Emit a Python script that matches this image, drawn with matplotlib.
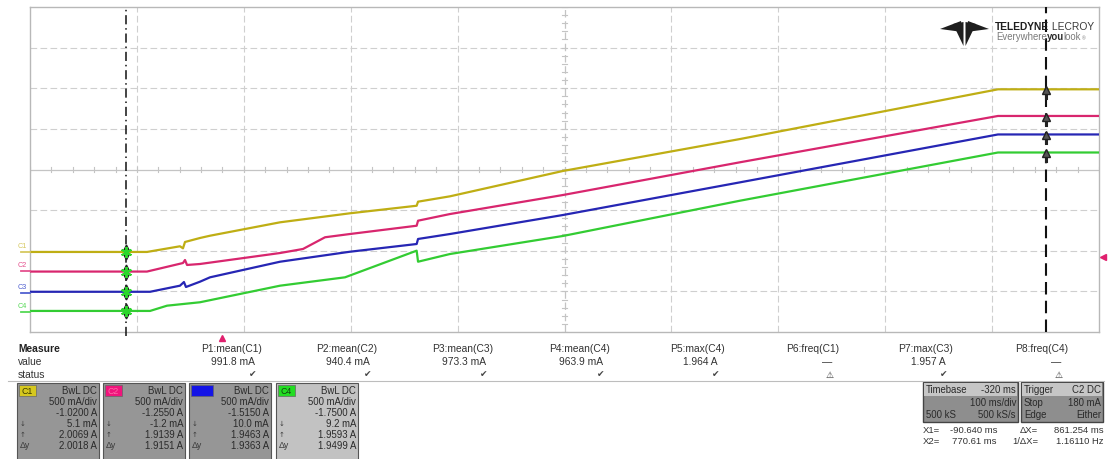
import numpy as np
import matplotlib
matplotlib.use("Agg")
import matplotlib.pyplot as plt
from matplotlib.patches import Rectangle, Polygon

plt.rcParams['font.family'] = ['Liberation Sans', 'DejaVu Sans']

# ---------------- acquisition (time in ms, current in A) ----------------
c1_t = [-180, -70.6, -49.0, -39.7, -36.9, -35.0, -21.0, -11.6, 53.9, 119.3,
        181.7, 183.0, 212.9, 318.6, 484.2, 725.5, 820]
c1_a = [0.0051, 0.0051, 0.054, 0.075, 0.050, 0.128, 0.177, 0.205, 0.370, 0.481,
        0.574, 0.624, 0.690, 1.002, 1.395, 2.0069, 2.0069]

c2_t = [-180, -70.6, -36.9, -35.0, -33.1, -21.0, 53.9, 75.4, 96.0, 119.3,
        181.7, 183.0, 212.9, 318.6, 484.2, 725.5, 820]
c2_a = [-0.0012, -0.0012, 0.104, 0.141, 0.080, 0.092, 0.227, 0.277, 0.421, 0.461,
        0.563, 0.625, 0.707, 0.941, 1.344, 1.9139, 1.9139]

c3_t = [-180, -67.7, -39.7, -36.0, -34.1, -21.0, -11.6, 53.9, 119.3,
        181.7, 183.0, 212.9, 318.6, 484.2, 725.5, 820]
c3_a = [0.0100, 0.0100, 0.085, 0.130, 0.069, 0.134, 0.188, 0.380, 0.503,
        0.598, 0.660, 0.721, 0.955, 1.357, 1.9463, 1.9463]

c4_t = [-180, -67.7, -51.8, -21.0, 53.9, 114.7, 181.7, 183.0, 212.9,
        318.6, 484.2, 725.5, 820]
c4_a = [0.0092, 0.0092, 0.074, 0.116, 0.320, 0.423, 0.751, 0.615, 0.710,
        0.932, 1.366, 1.9593, 1.9593]

channels = ["C1", "C2", "C3", "C4"]
ch_times = [c1_t, c2_t, c3_t, c4_t]
ch_amps = [c1_a, c2_a, c3_a, c4_a]
ch_colors = ["#bfae14", "#d8266e", "#2626b4", "#33cc33"]
ch_label_colors = ["#d6c860", "#e4508e", "#5060d0", "#55d855"]
ch_chip_colors = ["#d6c81e", "#f0147c", "#1414e6", "#22dd22"]
ch_offsets = [-1.0200, -1.2550, -1.5150, -1.7500]
amps_per_div = 0.5

# time base: 100 ms/div, 10 divisions, display from -180 ms to 820 ms
t_left, t_right = -180.0, 820.0
n_xdiv, n_ydiv = 10, 8

# cursors
x1_ms = -90.640
x2_ms = 770.61

# trigger: C2 edge at 180 mA, t = 0
trig_level = 0.180
trig_time = 0.0

# measurement table
meas_names = ["P1:mean(C1)", "P2:mean(C2)", "P3:mean(C3)", "P4:mean(C4)",
              "P5:max(C4)", "P6:freq(C1)", "P7:max(C3)", "P8:freq(C4)"]
meas_values = ["991.8 mA", "940.4 mA", "973.3 mA", "963.9 mA",
               "1.964 A", "\u2014", "1.957 A", "\u2014"]
meas_status = ["ok", "ok", "ok", "ok", "ok", "warn", "ok", "warn"]

# per-channel descriptor readouts
ch_coupling = ["BwL DC", "BwL DC", "BwL DC", "BwL DC"]
ch_scale = ["500 mA/div"] * 4
ch_offset_txt = ["-1.0200 A", "-1.2550 A", "-1.5150 A", "-1.7500 A"]
ch_at_x1 = ["5.1 mA", "-1.2 mA", "10.0 mA", "9.2 mA"]
ch_at_x2 = ["2.0069 A", "1.9139 A", "1.9463 A", "1.9593 A"]
ch_delta = ["2.0018 A", "1.9151 A", "1.9363 A", "1.9499 A"]

timebase_rows = [("Timebase", "-320 ms"), ("", "100 ms/div"), ("500 kS", "500 kS/s")]
trigger_rows = [("Trigger", "C2 DC"), ("Stop", "180 mA"), ("Edge", "Either")]
cursor_rows = [("X1=", "-90.640 ms", "\u0394X=", "861.254 ms"),
               ("X2=", "770.61 ms", "1/\u0394X=", "1.16110 Hz")]

# ---------------- figure ----------------
W, H = 1109, 460
fig = plt.figure(figsize=(W / 100, H / 100), dpi=100)
fig.patch.set_facecolor("white")

gx0, gx1, gy0, gy1 = 30, 1099, 8, 333
ax = fig.add_axes([gx0 / W, 1 - gy1 / H, (gx1 - gx0) / W, (gy1 - gy0) / H])
ax.set_xlim(t_left, t_right)
ax.set_ylim(-n_ydiv / 2, n_ydiv / 2)
ax.set_xticks([])
ax.set_yticks([])
for sp in ax.spines.values():
    sp.set_color("#b8b8b8")
    sp.set_linewidth(1.0)

ms_per_div = (t_right - t_left) / n_xdiv
px_per_ms = (gx1 - gx0) / (t_right - t_left)
px_per_div = (gy1 - gy0) / n_ydiv

# graticule
grid_kw = dict(color="#cfcfcf", lw=0.8, dashes=(6, 3), zorder=1)
for i in range(1, n_xdiv):
    if i != n_xdiv // 2:
        ax.axvline(t_left + i * ms_per_div, **grid_kw)
for j in range(1, n_ydiv):
    if j != n_ydiv // 2:
        ax.axhline(-n_ydiv / 2 + j, **grid_kw)
t_mid = t_left + 5 * ms_per_div
ax.axhline(0, color="#c4c4c4", lw=0.9, zorder=1)
ax.axvline(t_mid, color="#c4c4c4", lw=0.9, dashes=(6, 3), zorder=1)
tick_h = 2.2 / px_per_div
for tt in np.arange(t_left, t_right + 1e-6, ms_per_div / 5):
    ax.plot([tt, tt], [-tick_h, tick_h], color="#c4c4c4", lw=0.8, zorder=1)
tick_w = 2.2 / px_per_ms
for yy in np.arange(-n_ydiv / 2, n_ydiv / 2 + 1e-6, 0.2):
    ax.plot([t_mid - tick_w, t_mid + tick_w], [yy, yy], color="#c4c4c4", lw=0.8, zorder=1)


def to_div(amps, offset):
    return (np.asarray(amps, dtype=float) + offset) / amps_per_div


# traces
for name, tt, aa, col, off in zip(channels, ch_times, ch_amps, ch_colors, ch_offsets):
    ax.plot(tt, to_div(aa, off), color=col, lw=1.6, zorder=3, solid_joinstyle="round")

# channel ground markers + labels on the left edge
for name, col, off in zip(channels, ch_label_colors, ch_offsets):
    y0 = to_div(0.0, off)
    ax.plot([t_left - 9 / px_per_ms, t_left], [y0, y0], color=col, lw=1.3, clip_on=False, zorder=3)
    ax.text(t_left - 12 / px_per_ms, y0 + 3 / px_per_div, name, color=col, fontsize=5.2,
            ha="left", va="bottom", clip_on=False)

# cursors
ax.plot([x1_ms, x1_ms], [-n_ydiv / 2 - 4 / px_per_div, n_ydiv / 2], color="#111111", lw=1.1,
        dashes=(6, 2.5, 1, 2.5), zorder=4, clip_on=False)
ax.axvline(x2_ms, color="#111111", lw=1.5, dashes=(6, 3), zorder=4)
for tt, aa, off in zip(ch_times, ch_amps, ch_offsets):
    y1 = to_div(np.interp(x1_ms, tt, aa), off)
    y2 = to_div(np.interp(x2_ms, tt, aa), off)
    ax.plot([x1_ms], [y1 + 5 / px_per_div], marker="^", ms=3.5, color="#222222", zorder=5)
    ax.plot([x1_ms], [y1 - 5 / px_per_div], marker="v", ms=3.5, color="#222222", zorder=5)
    ax.plot([x1_ms], [y1], marker=(6, 2, 0), ms=8, mew=1.4, color="#2bd62b", zorder=6)
    ax.plot([x2_ms, x2_ms], [y2, y2 - 9 / px_per_div], color="#222222", lw=2.2, zorder=5)
    ax.plot([x2_ms], [y2 - 1 / px_per_div], marker="^", ms=5.5, mfc="#555555", mec="#222222",
            mew=1.0, zorder=6)

# trigger markers
ax.plot([t_right + 4 / px_per_ms], [to_div(trig_level, ch_offsets[1])], marker="<",
        ms=4, color="#e0206e", clip_on=False, zorder=5)
ax.plot([trig_time], [-n_ydiv / 2 - 6 / px_per_div], marker="^", ms=4, color="#e0206e",
        clip_on=False, zorder=5)

# ---------------- pixel overlay: logo and readout panels ----------------
ov = fig.add_axes([0, 0, 1, 1])
ov.set_xlim(0, W)
ov.set_ylim(H, 0)
ov.axis("off")
fig.canvas.draw()
renderer = fig.canvas.get_renderer()


def chain_text(x, y, pieces):
    """Place text pieces one after another on a baseline, left to right."""
    for s, kw in pieces:
        t = ov.text(x, y, s, ha="left", va="baseline", **kw)
        bb = t.get_window_extent(renderer=renderer)
        x = ov.transData.inverted().transform((bb.x1, bb.y0))[0]


# logo
logo_col = "#1e1e1e"
for pts in ([(940, 30), (961, 22), (962.5, 33)],
            [(989, 30), (968, 22), (966.5, 33)],
            [(953, 25), (963.5, 23), (963.5, 47)],
            [(976, 25), (965.5, 23), (965.5, 47)]):
    ov.add_patch(Polygon(pts, closed=True, color=logo_col, lw=0))
chain_text(995, 30.5, [("TELEDYNE", dict(fontsize=7.4, fontweight="bold", color="#1e1e1e")),
                       (" LECROY", dict(fontsize=7.4, color="#3a3a3a"))])
chain_text(996, 40.5, [("Everywhere", dict(fontsize=6.9, color="#7a7a7a")),
                       ("you", dict(fontsize=6.9, color="#2a2a2a", fontweight="bold")),
                       ("look", dict(fontsize=6.9, color="#7a7a7a")),
                       ("\u00ae", dict(fontsize=3.5, color="#7a7a7a"))])

# measurement table
txt_col = "#333333"
fs = 7.4
row_y = [349, 362, 375]
ov.text(18, row_y[0], "Measure", fontsize=fs, fontweight="bold", color="#222222", va="center")
ov.text(18, row_y[1], "value", fontsize=fs, color=txt_col, va="center")
ov.text(18, row_y[2], "status", fontsize=fs, color=txt_col, va="center")
col_right = [262, 377, 493, 610, 725, 839, 953, 1068]
for xr, nm, val, st in zip(col_right, meas_names, meas_values, meas_status):
    ov.text(xr, row_y[0], nm, fontsize=fs, color=txt_col, ha="right", va="center")
    ov.text(xr - 7, row_y[1], val, fontsize=fs, color=txt_col, ha="right", va="center")
    if st == "ok":
        ov.text(xr - 9, row_y[2], "\u2714", fontsize=6.5, color="#444444", ha="center",
                va="center", family=["DejaVu Sans"])
    else:
        ov.text(xr - 9, row_y[2], "\u26A0", fontsize=6.5, color="#333333", ha="center",
                va="center", family=["DejaVu Sans"])
ov.plot([8, 1104], [382, 382], color="#bdbdbd", lw=0.8)

# channel descriptor boxes
box_x = [17, 103, 189, 276]
box_w = 82
box_top, box_bot = 384, 461
row_ys = [391, 402, 413, 424, 435, 446]
chip_w = [17, 17, 22, 17]
for k in range(4):
    bx = box_x[k]
    body = "#c2c2c2" if k == 3 else "#969696"
    ov.add_patch(Rectangle((bx, box_top), box_w, box_bot - box_top, facecolor=body,
                           edgecolor="#555555", lw=0.8))
    ov.add_patch(Rectangle((bx + 2, box_top + 2), chip_w[k], 11, facecolor=ch_chip_colors[k],
                           edgecolor="#666666", lw=0.5))
    chip_txt = "#3a3a00" if k == 0 else ("#ff6aa8" if k == 1 else ("#1414e6" if k == 2 else "#114411"))
    ov.text(bx + 2 + chip_w[k] / 2, box_top + 8, channels[k], fontsize=6.3, color=chip_txt,
            ha="center", va="center")
    right = bx + box_w - 2
    lines = [ch_coupling[k], ch_scale[k], ch_offset_txt[k], ch_at_x1[k], ch_at_x2[k], ch_delta[k]]
    for ln, yy in zip(lines, row_ys):
        ov.text(right, yy, ln, fontsize=6.9, color="#2a2a2a", ha="right", va="center")
    ov.text(bx + 3, row_ys[3], "\u2193", fontsize=5, color="#3a3a3a", ha="left", va="center",
            family=["DejaVu Sans"])
    ov.text(bx + 3, row_ys[4], "\u2191", fontsize=5, color="#3a3a3a", ha="left", va="center",
            family=["DejaVu Sans"])
    ov.text(bx + 3, row_ys[5], "\u0394y", fontsize=6.3, color="#3a3a3a", ha="left", va="center")


# timebase and trigger boxes
def info_box(x0, x1, rows):
    top, head_bot, bot = 383, 397, 423
    ov.add_patch(Rectangle((x0, top), x1 - x0, bot - top, facecolor="#8e8e8e",
                           edgecolor="#444444", lw=1.0))
    ov.add_patch(Rectangle((x0 + 1, top + 1), x1 - x0 - 2, head_bot - top - 1,
                           facecolor="#c6c6c6", edgecolor="none"))
    ys = [390, 403, 415]
    for (lt, rt), yy in zip(rows, ys):
        if lt:
            ov.text(x0 + 3, yy, lt, fontsize=6.9, color="#2a2a2a", ha="left", va="center")
        ov.text(x1 - 2, yy, rt, fontsize=6.9, color="#2a2a2a", ha="right", va="center")


info_box(923, 1018, timebase_rows)
info_box(1021, 1103, trigger_rows)

for (l1, v1, l2, v2), yy in zip(cursor_rows, [431, 442]):
    ov.text(923, yy, l1, fontsize=6.8, color="#333333", ha="left", va="center")
    ov.text(997, yy, v1, fontsize=6.8, color="#333333", ha="right", va="center")
    ov.text(1038, yy, l2, fontsize=6.8, color="#333333", ha="right", va="center")
    ov.text(1104, yy, v2, fontsize=6.8, color="#333333", ha="right", va="center")

fig.savefig("out.png", dpi=100)
